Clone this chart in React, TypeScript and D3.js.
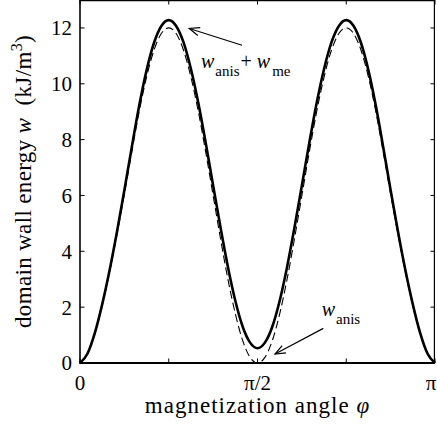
import React from "react";
import * as d3 from "d3";

// samples every pi/48 over [0, pi]
const steps = d3.range(49);

// w_anis + w_me (kJ/m^3), solid
const wTotal = [
  0, 0.33, 1.07, 2.1, 3.32, 4.7, 6.19, 7.73, 9.21, 10.48, 11.46, 12.07, 12.28,
  12.07, 11.48, 10.53, 9.31, 7.88, 6.36, 4.85, 3.44, 2.23, 1.3, 0.73, 0.53,
  0.73, 1.3, 2.23, 3.44, 4.85, 6.36, 7.88, 9.31, 10.53, 11.48, 12.07, 12.28,
  12.07, 11.46, 10.48, 9.21, 7.73, 6.19, 4.7, 3.32, 2.1, 1.07, 0.33, 0,
];

// w_anis (kJ/m^3), dashed
const wAnis = [
  0, 0.32, 1.05, 2.06, 3.25, 4.6, 6.05, 7.55, 9.0, 10.24, 11.2, 11.8, 12.0,
  11.8, 11.2, 10.24, 9.0, 7.55, 6.0, 4.45, 3.0, 1.76, 0.8, 0.2, 0,
  0.2, 0.8, 1.76, 3.0, 4.45, 6.0, 7.55, 9.0, 10.24, 11.2, 11.8, 12.0,
  11.8, 11.2, 10.24, 9.0, 7.55, 6.05, 4.6, 3.25, 2.06, 1.05, 0.32, 0,
];

const yTicks = [0, 2, 4, 6, 8, 10, 12];
const xTicks = [0, Math.PI / 4, Math.PI / 2, (3 * Math.PI) / 4, Math.PI];
const xTickLabels = ["0", "", "\u03c0/2", "", "\u03c0"];

const W = 437;
const H = 432;
const left = 80;
const right = 435;
const top = 0;
const bottom = 363;
const font = "'Liberation Serif', 'Times New Roman', serif";
const tick = 4.5;

export default function App() {
  const x = d3.scaleLinear().domain([0, Math.PI]).range([left, right]);
  const y = d3.scaleLinear().domain([0, 13]).range([bottom, top]);
  const phi = steps.map((k) => (k * Math.PI) / 48);

  const line = d3
    .line<number>()
    .x((_, i) => x(phi[i]))
    .y((d) => y(d))
    .curve(d3.curveMonotoneX);

  // annotation anchors in data coordinates
  const a1Text: [number, number] = [1.071, 10.56];
  const a1From: [number, number] = [1.434, 11.38];
  const a1To: [number, number] = [0.967, 11.98];
  const a2Text: [number, number] = [2.139, 1.68];
  const a2From: [number, number] = [2.153, 1.24];
  const a2To: [number, number] = [1.726, 0.32];

  const arrow = (from: [number, number], to: [number, number]) => {
    const x0 = x(from[0]), y0 = y(from[1]);
    const x1 = x(to[0]), y1 = y(to[1]);
    const ang = Math.atan2(y1 - y0, x1 - x0);
    const len = 11, spread = 0.38;
    const p1 = [x1 - len * Math.cos(ang - spread), y1 - len * Math.sin(ang - spread)];
    const p2 = [x1 - len * Math.cos(ang + spread), y1 - len * Math.sin(ang + spread)];
    return (
      <g stroke="#000" strokeWidth={1.2} fill="none">
        <line x1={x0} y1={y0} x2={x1} y2={y1} />
        <path d={`M${p1[0]},${p1[1]}L${x1},${y1}L${p2[0]},${p2[1]}`} />
      </g>
    );
  };

  return (
    <div style={{ position: "absolute", left: 0, top: 0 }}>
      <svg width={W} height={H} style={{ display: "block", background: "#fff" }} fontFamily={font}>
        {/* curves */}
        <path d={line(wAnis) || ""} fill="none" stroke="#000" strokeWidth={1.1} strokeDasharray="8,4" />
        <path d={line(wTotal) || ""} fill="none" stroke="#000" strokeWidth={2.6} strokeLinejoin="round" />

        {/* box */}
        <line x1={left} x2={right} y1={top + 0.6} y2={top + 0.6} stroke="#000" strokeWidth={1.2} />
        <line x1={right - 0.6} x2={right - 0.6} y1={top} y2={bottom} stroke="#000" strokeWidth={1.2} />
        <line x1={left} x2={right} y1={bottom} y2={bottom} stroke="#000" strokeWidth={2} />
        <line x1={left} x2={left} y1={top} y2={bottom + 1} stroke="#000" strokeWidth={1.6} />

        {/* y ticks */}
        {yTicks.map((t) => (
          <g key={"y" + t}>
            <line x1={left} x2={left + tick} y1={y(t)} y2={y(t)} stroke="#000" strokeWidth={1} />
            <line x1={right} x2={right - tick} y1={y(t)} y2={y(t)} stroke="#000" strokeWidth={1} />
            <text x={72} y={y(t)} dy="0.35em" textAnchor="end" fontSize={21}>
              {t}
            </text>
          </g>
        ))}

        {/* x ticks */}
        {xTicks.map((t, i) => (
          <g key={"x" + i}>
            <line x1={x(t)} x2={x(t)} y1={bottom} y2={bottom - tick} stroke="#000" strokeWidth={1} />
            <line x1={x(t)} x2={x(t)} y1={top} y2={top + tick} stroke="#000" strokeWidth={1} />
            {xTickLabels[i] && (
              <text x={i === 4 ? x(t) - 4 : x(t)} y={390} textAnchor="middle" fontSize={21}>
                {xTickLabels[i]}
              </text>
            )}
          </g>
        ))}

        {/* axis labels */}
        <text x={(left + right) / 2} y={413} textAnchor="middle" fontSize={23} letterSpacing={1}>
          magnetization angle <tspan fontStyle="italic">{"\u03c6"}</tspan>
        </text>
        <text
          transform={`translate(31,${(top + bottom) / 2}) rotate(-90)`}
          textAnchor="middle"
          fontSize={23}
          letterSpacing={0.35}
        >
          {"domain wall energy\u00a0"}
          <tspan fontStyle="italic">w</tspan>
          {"\u00a0\u00a0(kJ/m"}
          <tspan fontSize={16} dy={-9}>3</tspan>
          <tspan dy={9}>)</tspan>
        </text>

        {/* annotations */}
        <text x={x(a1Text[0])} y={y(a1Text[1])} fontSize={20}>
          <tspan fontStyle="italic">w</tspan>
          <tspan fontSize={15} dy={8} dx={1}>anis</tspan>
          <tspan dy={-8} dx={1}>+</tspan>
          <tspan fontStyle="italic" dx={5}>w</tspan>
          <tspan fontSize={15} dy={8} dx={2}>me</tspan>
        </text>
        {arrow(a1From, a1To)}

        <text x={x(a2Text[0])} y={y(a2Text[1])} fontSize={20}>
          <tspan fontStyle="italic">w</tspan>
          <tspan fontSize={15} dy={8} dx={1}>anis</tspan>
        </text>
        {arrow(a2From, a2To)}
      </svg>
    </div>
  );
}
